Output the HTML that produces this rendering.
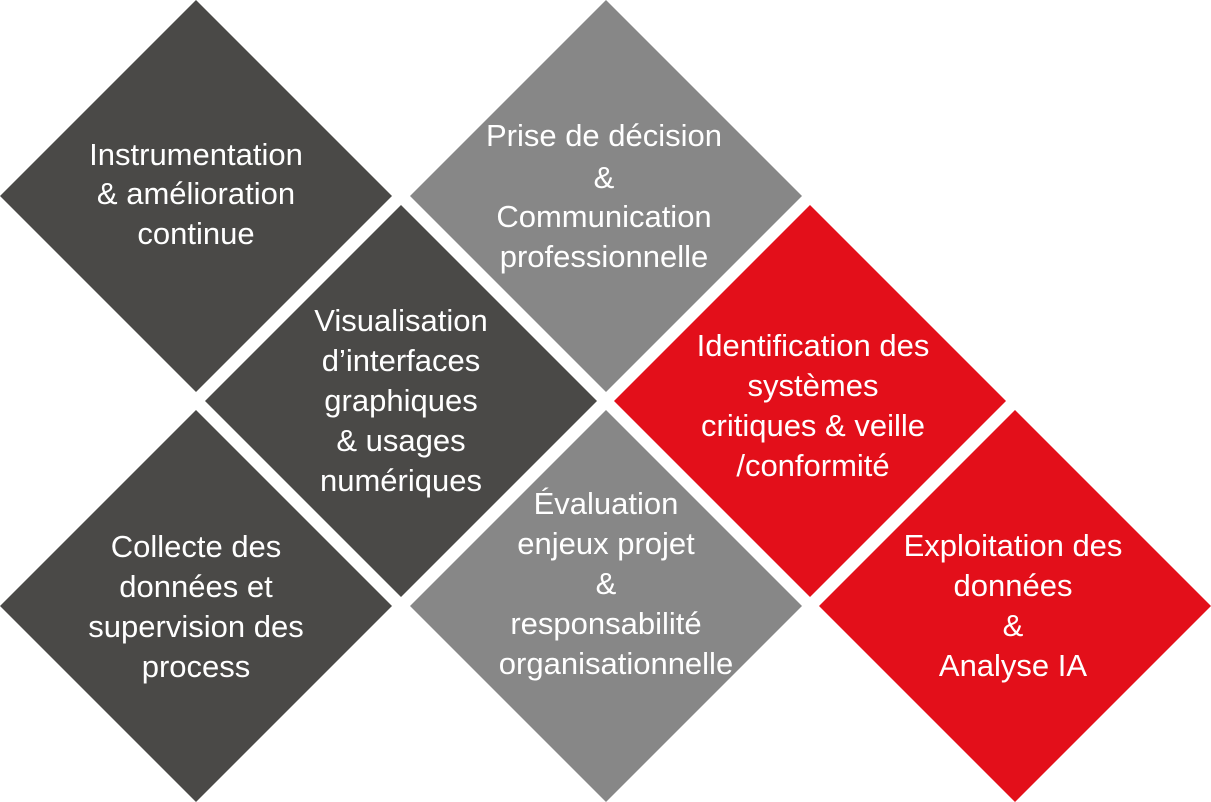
<!DOCTYPE html>
<html><head><meta charset="utf-8"><style>
html,body{margin:0;padding:0;background:#fff;}
svg{display:block}
text{font-family:"Liberation Sans",sans-serif;font-size:31px;fill:#fff;text-anchor:middle}
</style></head><body>
<svg width="1211" height="802" viewBox="0 0 1211 802">
<g>
<polygon points="196,0 392,196 196,392 0,196" fill="#4a4947"/>
<polygon points="606,0 802,196 606,392 410,196" fill="#878787"/>
<polygon points="401,205 597,401 401,597 205,401" fill="#4a4947"/>
<polygon points="810,205 1006,401 810,597 614,401" fill="#e30f1a"/>
<polygon points="196,410 392,606 196,802 0,606" fill="#4a4947"/>
<polygon points="606,410 802,606 606,802 410,606" fill="#878787"/>
<polygon points="1015,410 1211,606 1015,802 819,606" fill="#e30f1a"/>
</g>
<text x="196" y="165">Instrumentation</text>
<text x="196" y="204">&amp; amélioration</text>
<text x="196" y="244">continue</text>

<text x="604" y="146">Prise de décision</text>
<text x="604" y="188">&amp;</text>
<text x="604" y="227">Communication</text>
<text x="604" y="267">professionnelle</text>

<text x="401" y="331">Visualisation</text>
<text x="401" y="371">d’interfaces</text>
<text x="401" y="411">graphiques</text>
<text x="401" y="451">&amp; usages</text>
<text x="401" y="491">numériques</text>

<text x="813" y="356">Identification des</text>
<text x="813" y="396">systèmes</text>
<text x="813" y="436">critiques &amp; veille</text>
<text x="813" y="476">/conformité</text>

<text x="196" y="557">Collecte des</text>
<text x="196" y="597">données et</text>
<text x="196" y="637">supervision des</text>
<text x="196" y="677">process</text>

<text x="606" y="514">Évaluation</text>
<text x="606" y="554">enjeux projet</text>
<text x="606" y="594">&amp;</text>
<text x="606" y="634">responsabilité</text>
<text x="616" y="674">organisationnelle</text>

<text x="1013" y="556">Exploitation des</text>
<text x="1013" y="596">données</text>
<text x="1013" y="636">&amp;</text>
<text x="1013" y="676">Analyse IA</text>
</svg>
</body></html>
